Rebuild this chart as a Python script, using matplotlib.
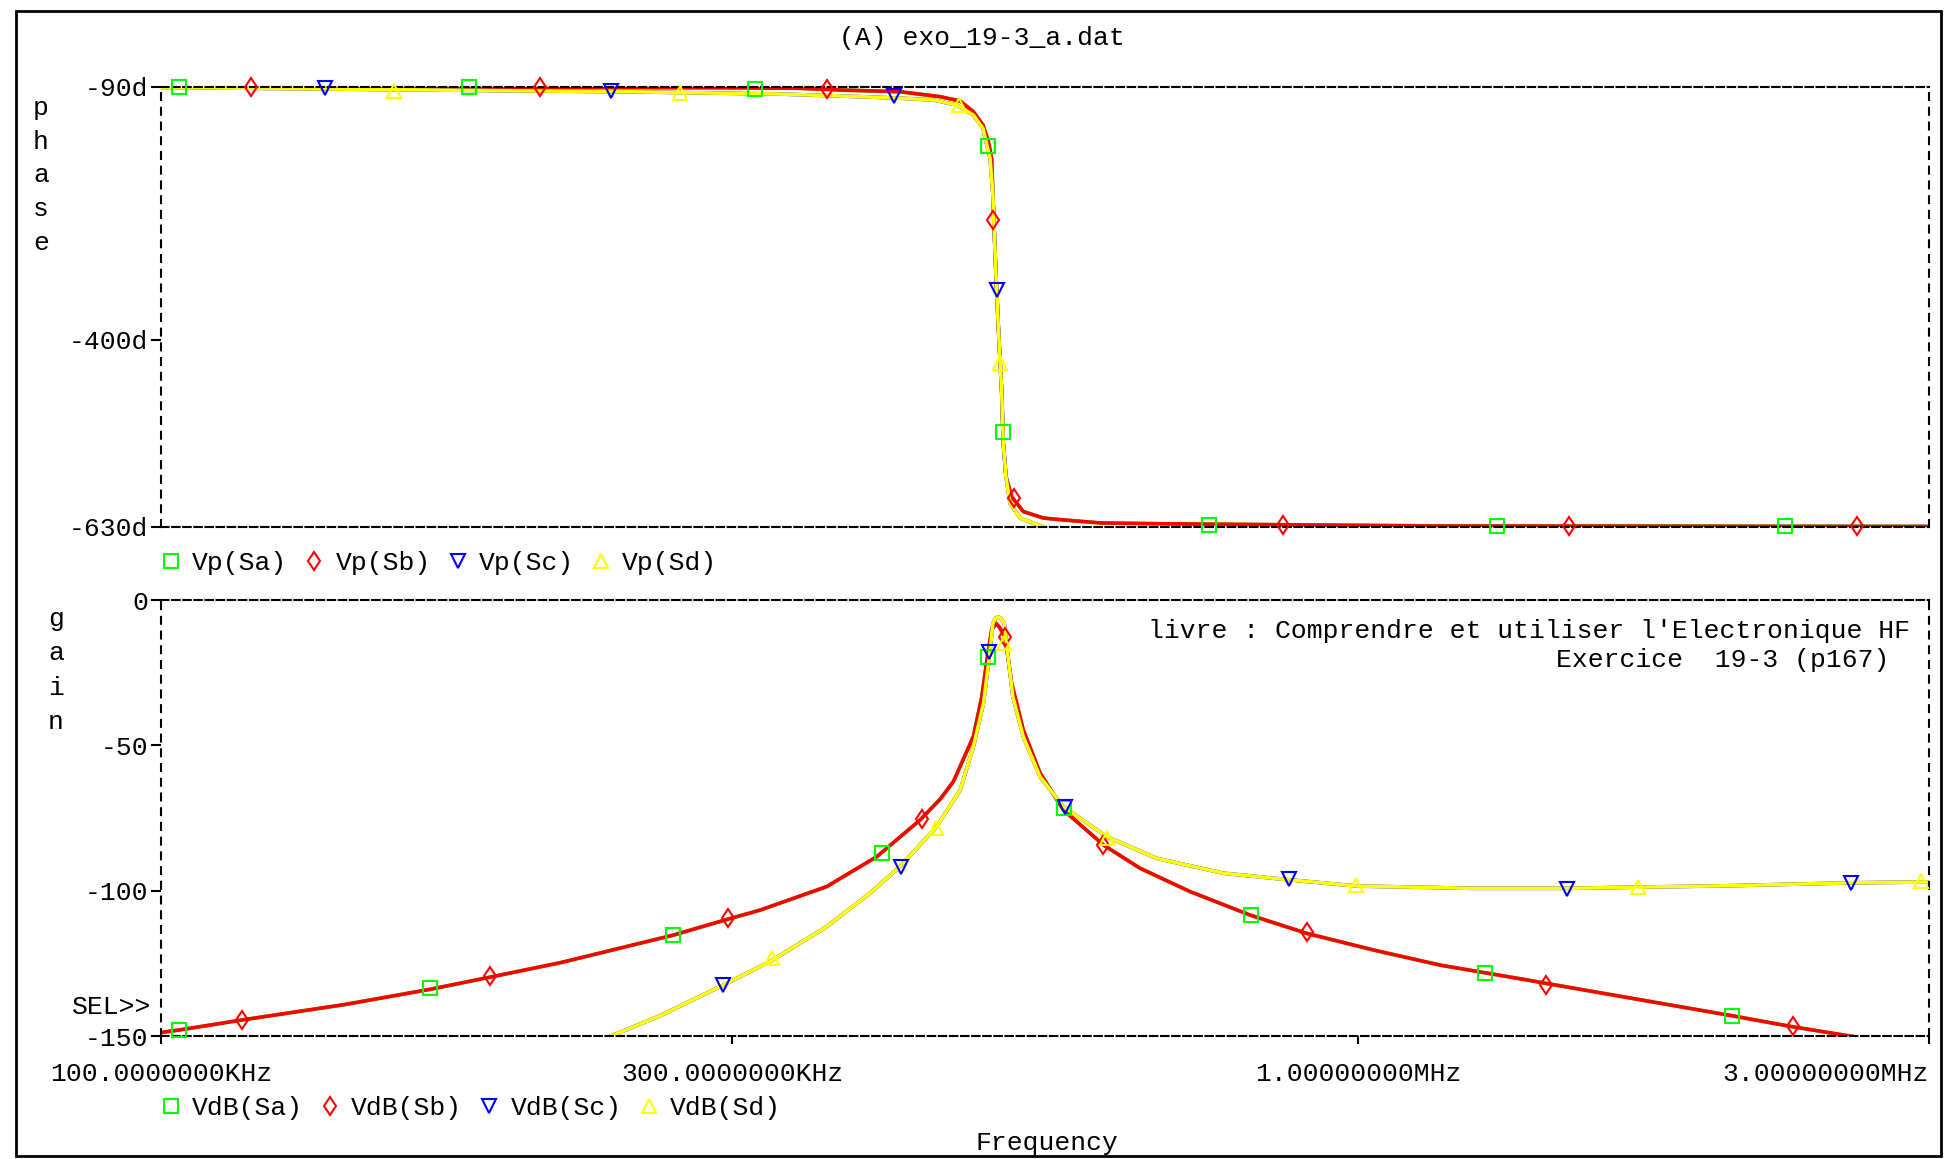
import numpy as np
import matplotlib
matplotlib.use("Agg")
import matplotlib.pyplot as plt
from matplotlib.lines import Line2D
from matplotlib.patches import Rectangle
from matplotlib.ticker import FixedLocator, NullLocator

plt.rcParams['font.family'] = ['Liberation Mono', 'DejaVu Sans Mono']
plt.rcParams['lines.scale_dashes'] = False

# ── data (frequency in kHz) ─────────────────────────────────────
# phase, traces Sa/Sb (identical) and Sc/Sd (identical)
phase_ab_f = [100, 215, 300, 342, 369.3, 414.4, 447.7, 465.2, 477.2, 486.1, 491.2, 494.3,
              495.4, 496.6, 498.5, 500.7, 504, 505.5, 508.1, 513.7, 525.3, 546, 564,
              608.8, 682.9, 1157, 3000]
phase_ab_v = [-90, -90.5, -91, -91.6, -93.7, -95.8, -101.9, -107.2, -120.3, -136.6, -157,
              -177.5, -220, -261, -323, -384, -466, -527, -568, -593, -611, -619, -621,
              -625, -626, -628.7, -629.3]
phase_cd_f = [100, 150, 250, 330, 384.4, 417.2, 442.4, 462, 477.2, 486.1, 492.8, 495.4,
              496.6, 498.5, 500.7, 504, 505.5, 508.1, 512.1, 522.1, 546]
phase_cd_v = [-90.5, -93, -96, -98.7, -101.9, -103.9, -106, -112, -124.4, -140.7, -177.5,
              -220, -261, -323, -384, -466, -527, -568, -601, -619, -630]

# gain (dB)
gain_ab_f = [100, 103.7, 116.8, 142.3, 168, 188.6, 215.5, 267.9, 297.6, 316.6,
             359.9, 396.3, 430.7, 447.7, 459.2, 477.2, 485, 490.3, 494.3, 498.5, 502,
             507.2, 513.7, 525.3, 542.5, 567.4, 613, 657.7, 723.9, 812.7, 906.4, 1030,
             1171, 1375, 1441, 2052, 2306, 2603]
gain_ab_v = [-148.8, -147.9, -144.5, -139.2, -133.9, -129.7, -124.8, -115.3, -109.8,
             -106.7, -98.6, -88.3, -75.7, -68.5, -62.5, -47, -33.3, -19.5, -10.3,
             -8, -9.5, -12.6, -28.7, -44.7, -59.5, -72.2, -84.3, -92.3, -100.3, -108.4,
             -114.7, -120.4, -125.6, -130.5, -132.0, -143.0, -146.8, -150.3]
gain_cd_f = [237.2, 261.3, 294.9, 322.7, 359.9, 391, 414.4, 444.7, 465.2, 477.2, 486.6,
             492.1, 495.5, 498, 500.7, 503, 506.4, 510.1, 514.9, 525.3, 542.5, 567.4,
             616.6, 679.2, 772.1, 877.6, 997.7, 1249, 1496, 1712, 2042, 2584, 3000]
gain_cd_v = [-150.2, -143.0, -132.5, -124.4, -112.4, -100.9, -91.7, -78, -65.4, -50.5,
             -35.5, -19.5, -8, -6.3, -5.8, -6.3, -8, -19.5, -33.3, -47, -60.8, -71.1,
             -81.4, -88.9, -94.0, -96.3, -98.4, -99.2, -99.2, -98.8, -98.3, -97.3, -97.0]

# marker positions
phase_sa_mk_f = [103.6, 180.7, 313.5, 490.9, 505.1, 750.5, 1308, 2275]
phase_sa_mk_v = [-90, -90, -93, -163, -514, -628, -628.5, -628.5]
phase_sb_mk_f = [119.0, 207.5, 359.9, 495.8, 516.0, 865.9, 1502, 2612]
phase_sb_mk_v = [-90, -90, -93, -253, -594, -628, -629, -629]
phase_sc_mk_f = [137.0, 237.7, 409.6, 499.1]
phase_sc_mk_v = [-91.5, -94.6, -100.6, -339]
phase_sd_mk_f = [156.6, 271.6, 464.5, 502.7]
phase_sd_mk_v = [-94.6, -97.6, -112, -429]

gain_sa_mk_f = [103.6, 167.8, 267.8, 400.6, 490.9, 567.6, 813.7, 1277, 2053]
gain_sa_mk_v = [-147.9, -133.4, -115.1, -86.9, -19.6, -71.6, -108.2, -128.3, -143.2]
gain_sb_mk_f = [116.8, 188.2, 297.4, 432.5, 507.4, 612.8, 906.1, 1436, 2308]
gain_sb_mk_v = [-144.5, -129.5, -109.5, -75.4, -12.8, -84.4, -114.2, -132.5, -146.6]
gain_sc_mk_f = [294.6, 415.5, 492.0, 568.9, 876.4, 1495, 2581]
gain_sc_mk_v = [-132.5, -92.0, -17.9, -71.2, -95.9, -99.3, -97.2]
gain_sd_mk_f = [324.1, 444.1, 506.1, 617.1, 996.6, 1713, 2957]
gain_sd_mk_v = [-123.2, -78.4, -14.9, -81.8, -98.0, -98.9, -96.7]

x_ticks = [100e3, 300e3, 1e6, 3e6]
x_labels = ["100.0000000KHz", "300.0000000KHz", "1.00000000MHz", "3.00000000MHz"]
phase_ticks = [-90, -400, -630]
phase_labels = ["-90d", "-400d", "-630d"]
gain_ticks = [0, -50, -100, -150]
gain_labels = ["0", "-50", "-100", "-150"]

# ── style ───────────────────────────────────────────────────────
W, H = 1944, 1159
FS = 19
GREEN, RED, BLUE, YELLOW = "#00FF00", "#FF0000", "#0000FF", "#FFFF00"
MARKERS = {"Sa": ("s", GREEN, 9.5), "Sb": ("d", RED, 9.5),
           "Sc": ("v", BLUE, 10), "Sd": ("^", YELLOW, 10)}
LW = 2.6


def fx(px):
    return px / W


def fy(py):
    return 1 - py / H


def khz(a):
    return np.asarray(a) * 1e3


def style_axes(ax):
    ax.set_xscale("log")
    ax.set_xlim(100e3, 3e6)
    ax.xaxis.set_minor_locator(NullLocator())
    for side in ("top", "bottom"):
        ax.spines[side].set_linestyle((0, (5.4, 2.6)))
        ax.spines[side].set_linewidth(1.5)
    for side in ("left", "right"):
        ax.spines[side].set_linestyle((0, (5.0, 5.6)))
        ax.spines[side].set_linewidth(1.5)
    ax.tick_params(axis="y", direction="out", length=7, width=1.5, pad=2,
                   labelsize=FS, right=False)
    ax.patch.set_alpha(0)


def draw(ax, ab_f, ab_v, cd_f, cd_v, marks):
    ax.plot(khz(ab_f), ab_v, color=GREEN, lw=LW, zorder=2)
    ax.plot(khz(ab_f), ab_v, color=RED, lw=LW, zorder=2)
    ax.plot(khz(cd_f), cd_v, color=BLUE, lw=LW, zorder=2)
    ax.plot(khz(cd_f), cd_v, color=YELLOW, lw=LW, zorder=2)
    for name, (mf, mv) in marks.items():
        m, c, s = MARKERS[name]
        ax.plot(khz(mf), mv, ls="none", marker=m, ms=s, mfc="none", mec=c,
                mew=1.5, zorder=3, clip_on=False)


fig = plt.figure(figsize=(W / 100, H / 100), dpi=100)
ax_p = fig.add_axes([fx(161), fy(527), fx(1768), 440 / H])
ax_g = fig.add_axes([fx(161), fy(1036), fx(1768), 436 / H])

# phase panel
style_axes(ax_p)
draw(ax_p, phase_ab_f, phase_ab_v, phase_cd_f, phase_cd_v,
     {"Sa": (phase_sa_mk_f, phase_sa_mk_v), "Sb": (phase_sb_mk_f, phase_sb_mk_v),
      "Sc": (phase_sc_mk_f, phase_sc_mk_v), "Sd": (phase_sd_mk_f, phase_sd_mk_v)})
ax_p.set_ylim(-630, -90)
ax_p.yaxis.set_major_locator(FixedLocator(phase_ticks))
ax_p.set_yticklabels(phase_labels)
ax_p.tick_params(axis="x", bottom=False, labelbottom=False)

# gain panel
style_axes(ax_g)
draw(ax_g, gain_ab_f, gain_ab_v, gain_cd_f, gain_cd_v,
     {"Sa": (gain_sa_mk_f, gain_sa_mk_v), "Sb": (gain_sb_mk_f, gain_sb_mk_v),
      "Sc": (gain_sc_mk_f, gain_sc_mk_v), "Sd": (gain_sd_mk_f, gain_sd_mk_v)})
ax_g.set_ylim(-150, 0)
ax_g.yaxis.set_major_locator(FixedLocator(gain_ticks))
ax_g.set_yticklabels(gain_labels)
ax_g.xaxis.set_major_locator(FixedLocator(x_ticks))
ax_g.set_xticklabels(x_labels)
ax_g.tick_params(axis="x", direction="out", length=5.8, width=1.5, pad=13,
                 labelsize=FS)
ax_g.get_xticklabels()[-1].set_horizontalalignment("right")

# legends (markers only)
def legend(names, prefix, y):
    handles = [Line2D([], [], ls="none", marker=MARKERS[n][0], mec=MARKERS[n][1],
                      mfc="none", ms=MARKERS[n][2], mew=1.5) for n in names]
    labels = [f"{prefix}({n})" for n in names]
    fig.legend(handles, labels, loc="center left", bbox_to_anchor=(fx(160.5), fy(y)),
               ncol=4, frameon=False, handlelength=0.8, handletextpad=0.4,
               columnspacing=0.62, borderpad=0, borderaxespad=0,
               prop={"size": FS})

legend(["Sa", "Sb", "Sc", "Sd"], "Vp", 563)
legend(["Sa", "Sb", "Sc", "Sd"], "VdB", 1108)

# texts
fig.text(fx(982), fy(38), "(A) exo_19-3_a.dat", ha="center", va="center", fontsize=FS)
fig.text(fx(1047), fy(1143), "Frequency", ha="center", va="center", fontsize=FS)
fig.text(fx(1910), fy(631), "livre : Comprendre et utiliser l'Electronique HF",
         ha="right", va="center", fontsize=FS)
fig.text(fx(1889), fy(660), "Exercice  19-3 (p167)", ha="right", va="center",
         fontsize=FS)
fig.text(fx(151), fy(1007), "SEL>>", ha="right", va="center", fontsize=FS)
for i, ch in enumerate("phase"):
    fig.text(fx(41), fy(108 + i * 33.7), ch, ha="center", va="center", fontsize=FS)
for i, ch in enumerate("gain"):
    fig.text(fx(56), fy(619 + i * 34.3), ch, ha="center", va="center", fontsize=FS)

# outer frame
fig.add_artist(Rectangle((fx(16), fy(1156)), fx(1941 - 16), (1156 - 11) / H,
                         transform=fig.transFigure, fill=False, lw=2, ec="black"))

fig.savefig("out.png", dpi=100, facecolor="white")
